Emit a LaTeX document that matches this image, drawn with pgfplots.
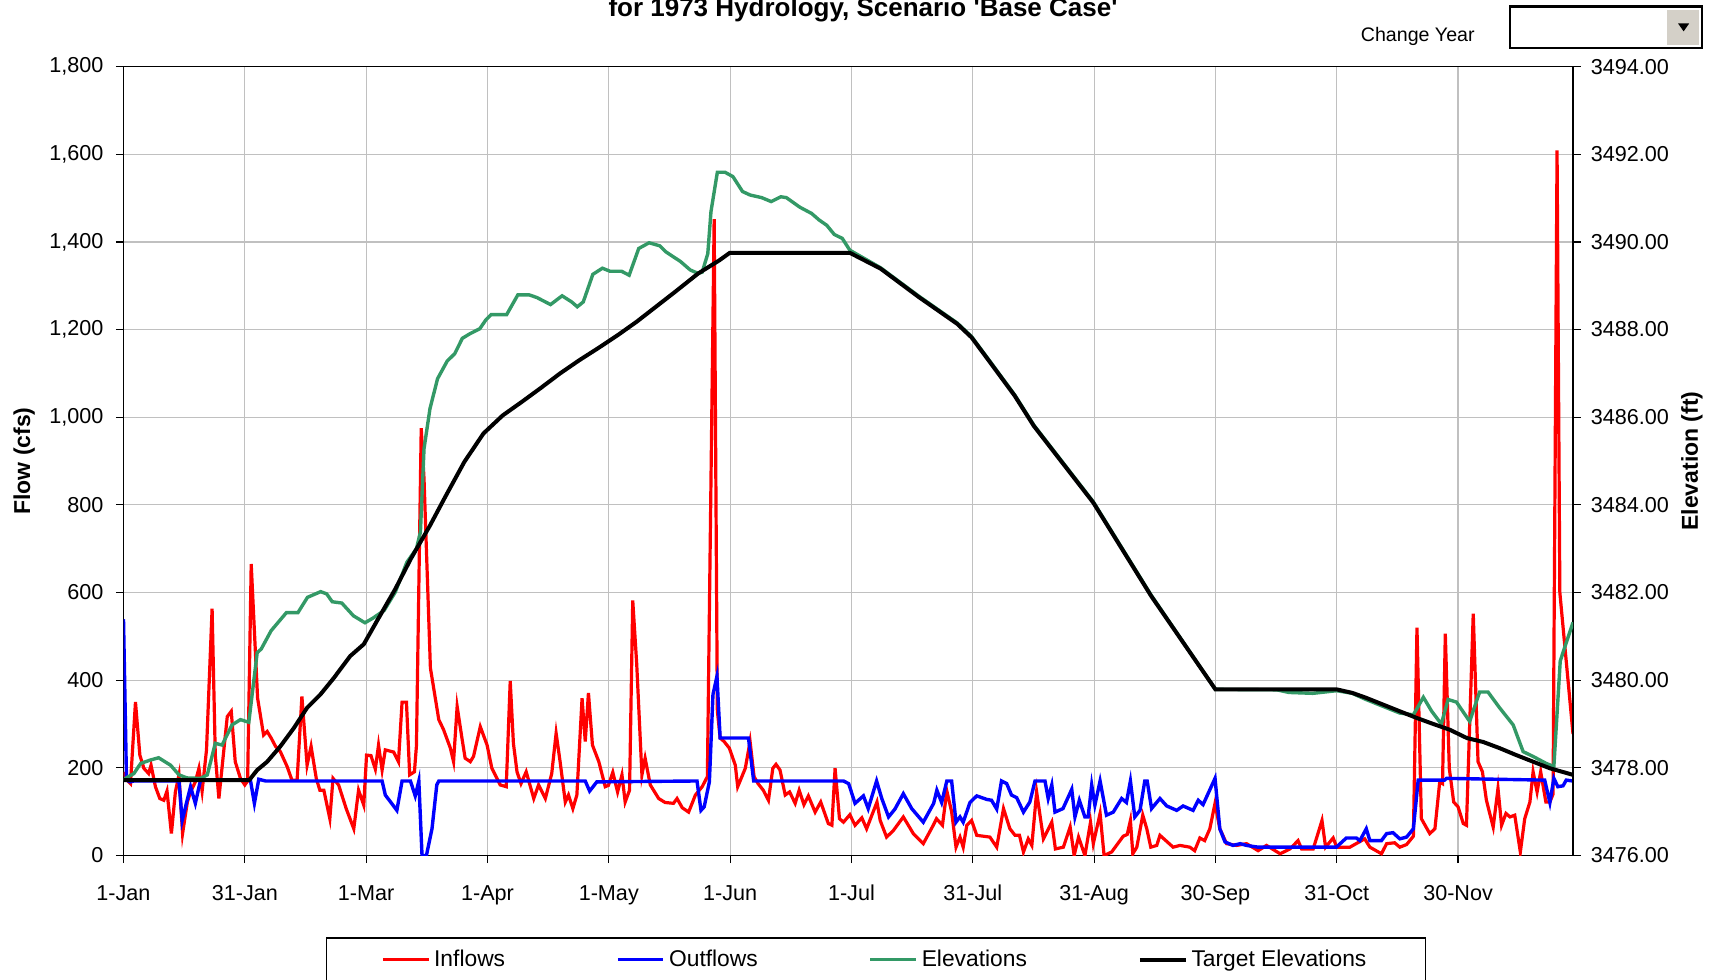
\documentclass[border=0pt]{standalone}
\usepackage{fontspec}
\setmainfont{Liberation Sans}[Ligatures=TeXOff]
\usepackage{pgfplots}
\pgfplotsset{compat=1.18}
\definecolor{inflow}{RGB}{255,0,0}
\definecolor{outflow}{RGB}{0,0,255}
\definecolor{elev}{RGB}{51,153,102}
\definecolor{gridgray}{RGB}{192,192,192}
\definecolor{btngray}{RGB}{212,208,200}

\pgfplotsset{
  common/.style={
    at={(61.75bp,62.25bp)}, anchor=south west,
    width=724.75bp, height=394.45bp, scale only axis,
    xmin=0, xmax=363.2,
    tick align=outside, major tick length=3.8bp,
    tick style={black, line width=0.6bp},
    axis line style={black, line width=0.9bp},
    /pgf/number format/assume math mode=true,
    tick label style={font=\fontsize{10.8bp}{12bp}\selectfont},
    scaled ticks=false,
  },
}

\begin{document}
\begin{tikzpicture}
\clip (0,0) rectangle (856.5bp,490bp);

% flows, left axis
\begin{axis}[common,
  ymin=0, ymax=1800, ytick={0,200,...,1800},
  xtick={0,30.4,60.8,91.2,121.6,152,182.4,212.8,243.2,273.6,304,334.4},
  xticklabels={1-Jan,31-Jan,1-Mar,1-Apr,1-May,1-Jun,1-Jul,31-Jul,31-Aug,30-Sep,31-Oct,30-Nov},
  xtick pos=bottom, ytick pos=left,
  xticklabel style={yshift=-7.6bp},
  xmajorgrids, ymajorgrids,
  grid style={gridgray, line width=0.6bp},
  yticklabel style={xshift=-2.7bp, /pgf/number format/1000 sep={,}},
  ylabel={Flow (cfs)},
  ylabel style={font=\bfseries\fontsize{11.5bp}{13bp}\selectfont,
    at={(axis description cs:-0.0686,0.5)}, anchor=center},
]
\addplot[inflow, line width=1.6bp] coordinates {
(0,190) (0.9,172) (1.75,164) (3,350) (4.1,229) (5.1,199) (6.3,187) (6.9,206)
(8,157) (9.1,130) (10.1,126) (10.9,147) (12,50) (13,145) (13.9,184) (14.8,50)
(16,122) (16.8,145) (18,168) (18.9,199) (19.7,147) (20.8,241) (22.2,563) (23,229)
(23.9,130) (26,317) (27,329) (28,214) (29.3,176) (30.4,161) (31.1,170) (32.0,665)
(33.6,359) (35.1,275) (36,283) (37,268) (38.1,249) (39.3,237) (41,203) (42.2,172)
(43.5,172) (44.7,363) (46,206) (47,249) (48.3,176) (49.2,149) (50.2,149) (51.7,84)
(52.5,176) (53.9,161) (55.8,107) (57.7,61) (58.9,149) (60.2,115) (60.9,229) (62,228)
(63.1,197) (63.9,252) (64.8,195) (65.6,241) (67.7,236) (68.9,214) (69.8,350) (70.9,350)
(71.7,184) (72.9,191) (73.4,250) (74.6,975) (75.3,860) (76.9,428) (79,310) (80.2,287)
(81.9,245) (82.7,214) (83.6,340) (84.8,268) (85.6,222) (86.9,214) (87.7,226) (89.4,294)
(91.1,252) (92.3,199) (94.4,161) (95.9,157) (96.9,398) (97.7,256) (98.6,191) (99.6,164)
(100.9,191) (102.8,130) (104,161) (105.7,130) (107.3,187) (108.4,279) (109.4,214) (110.7,122)
(111.5,138) (112.6,107) (113.6,138) (114.9,359) (115.7,260) (116.5,371) (117.5,252) (119.1,214)
(120.7,157) (121.5,160) (122.6,190) (123.8,145) (124.9,184) (125.7,122) (126.8,149) (127.6,582)
(128.6,436) (129.9,184) (130.7,222) (132,161) (134.1,130) (135.7,121) (137.8,119) (138.7,130)
(140,109) (141.6,99) (143.3,138) (145,157) (146.3,180) (148.0,1452) (148.8,330) (149.5,268)
(150.5,260) (151.8,245) (153.3,206) (153.9,157) (154.5,170) (155.8,199) (157,260) (158,180)
(159,164) (160.3,149) (161.6,126) (162.7,199) (163.5,208) (164.5,195) (165.8,138) (166.9,145)
(168.3,119) (169.3,149) (170.5,116) (171.6,136) (173.3,99) (174.7,122) (176.6,73) (177.5,69)
(178.3,199) (179.4,84) (180.4,76) (182,93) (183.3,69) (185,86) (186.2,61) (188.8,122)
(189.6,80) (191.2,42) (192.9,57) (195.4,88) (197.9,50) (200.4,27) (202.9,69) (203.7,84)
(205.2,69) (206.3,147) (207.5,100) (208.6,19) (209.6,42) (210.4,19) (211.3,69) (212.5,80)
(213.8,46) (217.1,42) (218.8,19) (220.5,107) (222.1,61) (223.4,46) (224.5,46) (225.5,8)
(226.7,38) (227.6,23) (228.8,145) (230.5,38) (232.6,76) (233.5,15) (235.5,19) (237.2,65)
(238.2,0) (239.3,42) (240.9,0) (242.3,76) (243,27) (244.7,96) (245.7,0) (247.6,8)
(250.5,44) (251.5,48) (252.3,80) (252.9,4) (253.9,19) (255.4,92) (256.4,61) (257.4,19)
(258.9,23) (259.7,46) (263,19) (264.7,23) (267.2,19) (268.4,11) (269.7,40) (270.9,34)
(272.2,61) (273.5,119) (274.7,61) (276.4,27) (278.9,23) (281.4,27) (284.3,11) (286.4,23)
(289.8,4) (292.3,15) (294.3,34) (295.2,15) (298.1,15) (300.3,80) (301.2,19) (303.1,40)
(304,19) (307.3,19) (311,38) (312.3,19) (315.2,4) (316.5,27) (318.5,29) (319.8,19)
(321.5,25) (323.2,44) (324.1,520) (325.2,84) (327.3,50) (328.6,61) (329.8,168) (330.5,164)
(331.2,506) (332.2,199) (333.3,122) (334.4,111) (335.7,73) (336.5,69) (338.2,552) (339.4,214)
(340.5,191) (341.5,126) (343.2,65) (344.4,153) (345.3,69) (346.4,96) (347.4,88) (348.6,92)
(350,8) (351.1,84) (352.4,122) (353.2,191) (354.2,145) (355.1,191) (356.4,122) (357.4,122)
(358.2,140) (359.2,1609) (359.9,600) (363.2,277)
};
\addplot[outflow, line width=1.7bp] coordinates {
(0,539) (0.75,172) (1.75,168) (2.6,170) (13.9,170) (14.7,80) (16.8,157) (18,119)
(19.3,172) (31.8,172) (32.8,119) (33.9,174) (35.6,170) (64.8,170) (65.6,138) (68.5,103)
(69.8,170) (71.9,170) (73.1,136) (74,170) (74.8,0) (75.9,0) (77.3,61) (78.5,161)
(79,170) (115.7,170) (116.8,147) (118.6,168) (143.7,170) (144.7,103) (145.5,111) (146.8,168)
(147.7,367) (148.7,409) (149.5,268) (156.6,268) (157.9,170) (180.4,170) (181.7,164) (183.3,119)
(185.4,136) (186.6,107) (188.7,170) (190,130) (191.7,88) (193.3,106) (195.4,141) (197.5,107)
(200.4,76) (203,119) (203.8,149) (205,121) (206.3,170) (207.5,170) (208.6,76) (209.6,88)
(210.4,76) (212.1,121) (213.8,136) (216.3,128) (217.5,126) (218.8,106) (220,170) (221.3,164)
(222.5,138) (223.8,132) (225.5,99) (227.1,122) (228.4,170) (230.9,170) (231.7,130) (232.6,161)
(233.4,99) (235.4,107) (237.6,151) (238.4,88) (239.5,126) (240.9,88) (241.7,88) (242.6,161)
(243.4,115) (244.7,170) (246.3,92) (248,99) (250.1,130) (251.3,121) (252.3,170) (253.4,88)
(254.7,103) (255.9,170) (256.5,170) (257.6,107) (259.7,130) (261.4,113) (263.9,103) (265.5,113)
(268,103) (269.3,126) (270.5,116) (273.5,176) (274.7,61) (276,31) (278,23) (279.8,27)
(281.4,23) (284.3,19) (303.9,19) (306.4,40) (308.9,40) (309.8,34) (311.4,61) (312.3,34)
(315.2,34) (316.5,50) (318.1,52) (319.8,38) (321.5,42) (323.2,61) (324.4,172) (331,172)
(331.5,176) (356.1,172) (357.4,121) (358.4,176) (359.4,157) (360.7,159) (361.5,172) (363.2,170)
};
\end{axis}

% elevations, right axis
\begin{axis}[common,
  ymin=3476, ymax=3494, ytick={3476,3478,...,3494},
  axis x line=none, axis y line*=right, ytick pos=right,
  yticklabel style={xshift=1.6bp, /pgf/number format/.cd, fixed, fixed zerofill, precision=2, 1000 sep={}},
  ylabel={Elevation (ft)},
  ylabel style={font=\bfseries\fontsize{11.5bp}{13bp}\selectfont,
    at={(axis description cs:1.0821,0.5)}, anchor=center},
  legend columns=4,
  legend style={at={(axis description cs:0.1394,-0.1033)}, anchor=north west,
    draw=black, line width=0.8bp, inner xsep=27.5bp, inner ysep=4bp,
    font=\fontsize{11.4bp}{13bp}\selectfont,
    /tikz/every even column/.append style={column sep=53.5bp}},
  legend image code/.code={\draw[#1] (0bp,0bp) -- (22.8bp,0bp);},
]
\addlegendimage{inflow, line width=1.6bp}
\addlegendentry{Inflows}
\addlegendimage{outflow, line width=1.7bp}
\addlegendentry{Outflows}
\addplot[elev, line width=1.7bp] coordinates {
(0,3477.70) (0.5,3477.76) (2.6,3477.87) (4.3,3478.10) (6.8,3478.18) (8.8,3478.23) (11.8,3478.06) (13.9,3477.84)
(15.9,3477.77) (19.3,3477.76) (21,3477.84) (23,3478.56) (24.7,3478.52) (27.2,3478.98) (29.3,3479.10) (31.4,3479.04)
(33.5,3480.63) (34.5,3480.71) (37,3481.13) (40.8,3481.54) (43.7,3481.54) (46.1,3481.89) (49.4,3482.02) (50.9,3481.97)
(52.3,3481.79) (54.7,3481.76) (57.6,3481.47) (60.5,3481.31) (62.4,3481.41) (65.3,3481.59) (68.1,3482.01) (71,3482.69)
(73.4,3483.00) (74.4,3483.38) (75.3,3485.28) (76.8,3486.20) (78.7,3486.88) (81.1,3487.28) (83,3487.45) (84.9,3487.80)
(86.9,3487.91) (89.3,3488.02) (90.7,3488.21) (92.1,3488.34) (96,3488.34) (98.8,3488.79) (101.7,3488.79) (103.6,3488.73)
(107,3488.57) (109.9,3488.77) (112.3,3488.63) (113.7,3488.52) (115.2,3488.63) (117.6,3489.26) (120,3489.40) (121.9,3489.33)
(124.8,3489.33) (126.7,3489.24) (129.1,3489.85) (131.7,3489.98) (134.4,3489.91) (135.8,3489.78) (139.6,3489.55) (142,3489.36)
(144,3489.28) (145,3489.31) (146.4,3489.73) (147.2,3490.69) (148.8,3491.59) (150.7,3491.59) (152.7,3491.49) (155.1,3491.15)
(157,3491.07) (159.9,3491.01) (162.3,3490.92) (164.7,3491.03) (166.1,3491.01) (169.5,3490.79) (172.4,3490.65) (174.3,3490.50)
(176.2,3490.38) (178.1,3490.17) (180.1,3490.08) (182,3489.81) (189.7,3489.41) (199.3,3488.76) (208.9,3488.15) (212.5,3487.84)
(216.5,3487.35) (223.3,3486.51) (228.1,3485.82) (243,3484.07) (257.5,3481.94) (273.6,3479.79) (289,3479.78) (292,3479.72)
(298,3479.70) (302,3479.74) (304,3479.76) (307.9,3479.70) (311.3,3479.56) (319.8,3479.25) (323.2,3479.21) (325.7,3479.61)
(327.8,3479.29) (330.2,3479.00) (331.9,3479.56) (334,3479.50) (337.3,3479.06) (339.8,3479.73) (341.9,3479.73) (344.8,3479.37)
(348.2,3478.98) (350.7,3478.37) (353.2,3478.26) (356.5,3478.10) (358.4,3478.03) (360,3480.44) (363.2,3481.32)
};
\addlegendentry{Elevations}
\addplot[black, line width=2bp] coordinates {
(0,3477.72) (31.5,3477.72) (33.5,3477.95) (36,3478.14) (39.3,3478.49) (42.7,3478.91) (46,3479.37) (49.3,3479.67)
(52.7,3480.05) (56.8,3480.55) (60.2,3480.82) (63.5,3481.35) (66.9,3481.89) (68.1,3482.08) (72,3482.77) (76.8,3483.53)
(80.6,3484.18) (85.4,3484.98) (90.2,3485.63) (95,3486.04) (99.8,3486.35) (104.6,3486.67) (109.4,3487.00) (114.2,3487.30)
(119,3487.58) (123.8,3487.87) (128.6,3488.18) (133.4,3488.52) (138.2,3488.86) (144,3489.28) (149.3,3489.58) (151.9,3489.75)
(182,3489.75) (189.7,3489.39) (199.3,3488.74) (208.9,3488.13) (212.5,3487.82) (216.5,3487.33) (223.3,3486.49) (228.1,3485.80)
(243,3484.05) (257.5,3481.92) (273.6,3479.79) (304,3479.79) (307.9,3479.71) (311.3,3479.60) (319.8,3479.29) (324,3479.14)
(328.2,3479.00) (332.3,3478.87) (336.6,3478.68) (340.7,3478.59) (344.8,3478.45) (349,3478.29) (353.2,3478.14) (357.4,3477.99)
(363.2,3477.84)
};
\addlegendentry{Target Elevations}
\end{axis}

% title (upper part cut off as in the screenshot) and year selector
\node[anchor=base, font=\bfseries\fontsize{13bp}{15bp}\selectfont] at (431.5bp,481.8bp)
  {for 1973 Hydrology, Scenario 'Base Case'};
\node[anchor=base east, inner sep=0pt, font=\fontsize{9.8bp}{11bp}\selectfont] at (737.5bp,469.2bp) {Change Year};
\draw[line width=1.2bp] (755bp,466bp) rectangle (851bp,486.7bp);
\fill[btngray] (833.5bp,467.5bp) rectangle (849.5bp,485bp);
\fill (839bp,478.3bp) -- (844.6bp,478.3bp) -- (841.8bp,474.3bp) -- cycle;
\end{tikzpicture}
\end{document}
